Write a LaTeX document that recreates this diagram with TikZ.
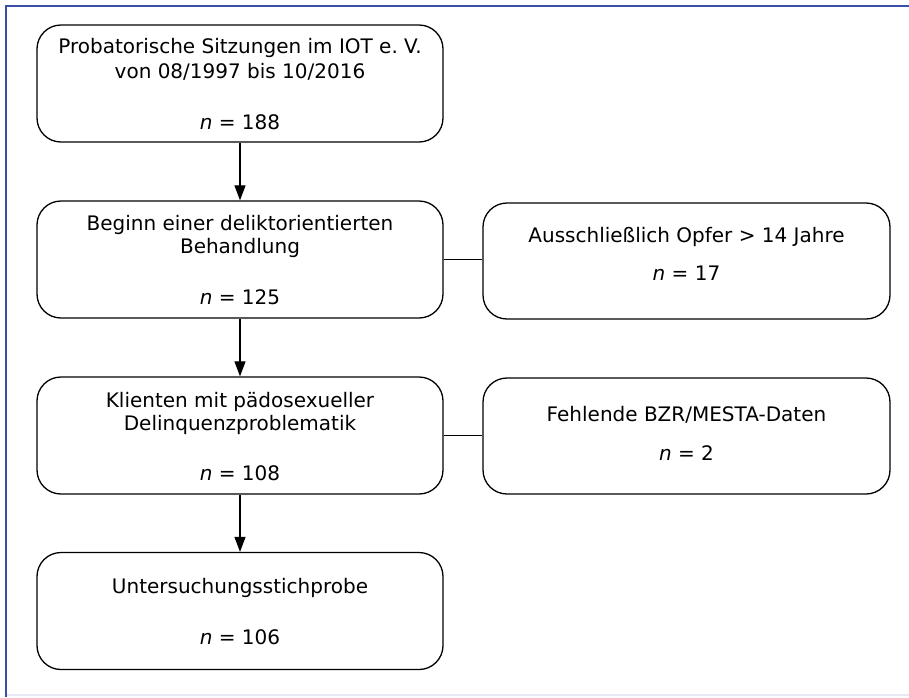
\documentclass[tikz,border=0pt]{standalone}
\usepackage{fontspec}
\setmainfont{DejaVu Sans}
\usetikzlibrary{arrows.meta}
\definecolor{frameblue}{RGB}{58,78,168}
\definecolor{framelight}{RGB}{230,232,244}
\tikzset{
  flowbox/.style={draw=black, line width=1.3pt, rounded corners=24pt, minimum width=406pt, minimum height=117pt, inner sep=0pt},
  sidebox/.style={draw=black, line width=1.3pt, rounded corners=24pt, minimum width=407pt, minimum height=116pt, inner sep=0pt},
  txt/.style={font=\fontsize{20}{24}\selectfont, inner sep=0pt, anchor=center},
  arr/.style={line width=1.2pt, -{Triangle[width=11pt,length=15pt]}},
  link/.style={line width=1.2pt}
}
\begin{document}
\begin{tikzpicture}[x=1pt,y=-1pt]
\useasboundingbox (0,0) rectangle (909,697);
\fill[white] (0,0) rectangle (909,697);
% frame
\draw[framelight, line width=1.5pt] (6,695) -- (909,695);
\draw[frameblue, line width=2.6pt] (6,697) -- (6,6) -- (909,6);

% left column
\node[flowbox] (b1) at (240,83.5) {};
\node[flowbox] (b2) at (240,259.5) {};
\node[flowbox] (b3) at (240,435.5) {};
\node[flowbox] (b4) at (240,611) {};
% right column
\node[sidebox] (r1) at (686.5,261) {};
\node[sidebox] (r2) at (686.5,436) {};

% texts
\node[txt] (t1a) at (240,48) {Probatorische Sitzungen im IOT e.~V.};
\node[txt] (t1b) at (240,72) {von 08/1997 bis 10/2016};
\node[txt] (t1n) at (240,122) {\textit{n} = 188};

\node[txt] (t2a) at (240,225) {Beginn einer deliktorientierten};
\node[txt] (t2b) at (240,248) {Behandlung};
\node[txt] (t2n) at (240,297) {\textit{n} = 125};

\node[txt] (t3a) at (240,402) {Klienten mit pädosexueller};
\node[txt] (t3b) at (240,425) {Delinquenzproblematik};
\node[txt] (t3n) at (240,473) {\textit{n} = 108};

\node[txt] (t4a) at (240,588) {Untersuchungsstichprobe};
\node[txt] (t4n) at (240,637) {\textit{n} = 106};

\node[txt] (r1a) at (686.5,237) {Ausschließlich Opfer > 14 Jahre};
\node[txt] (r1n) at (686.5,273) {\textit{n} = 17};

\node[txt] (r2a) at (686.5,415) {Fehlende BZR/MESTA-Daten};
\node[txt] (r2n) at (686.5,453) {\textit{n} = 2};

% connectors
\draw[arr] (b1.south) -- (b2.north);
\draw[arr] (b2.south) -- (b3.north);
\draw[arr] (b3.south) -- (b4.north);
\draw[link] (b2.east) -- (b2.east -| r1.west);
\draw[link] (b3.east) -- (b3.east -| r2.west);
\end{tikzpicture}
\end{document}
